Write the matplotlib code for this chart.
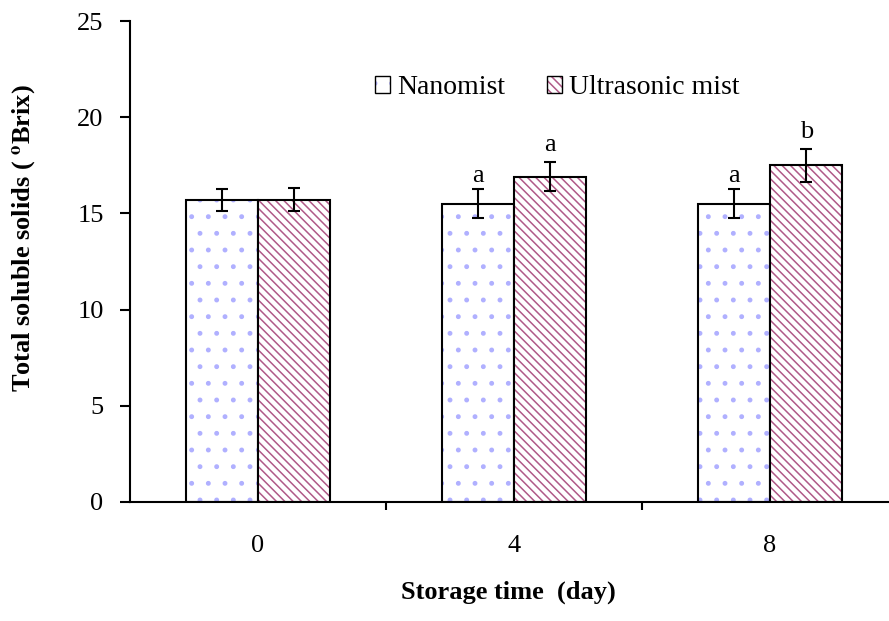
import matplotlib
matplotlib.use("Agg")
import matplotlib.pyplot as plt
import numpy as np

plt.rcParams['font.family'] = 'Liberation Serif'
plt.rcParams['mathtext.fontset'] = 'stix'
plt.rcParams['hatch.linewidth'] = 1.1

days = ["0", "4", "8"]
nanomist = [15.7, 15.5, 15.5]
nanomist_err = [0.55, 0.75, 0.75]
ultrasonic = [15.7, 16.9, 17.5]
ultrasonic_err = [0.6, 0.75, 0.85]
nanomist_sig = ["", "a", "a"]
ultrasonic_sig = ["", "a", "b"]

fig = plt.figure(figsize=(8.89, 6.21), dpi=100)
ax = fig.add_axes([130 / 889, 119 / 621, 768 / 889, 481 / 621])

x = np.arange(len(days))
w = 0.283

ekw = dict(ecolor='black', elinewidth=1.5, capsize=4.5, capthick=1.5)
b1 = ax.bar(x - w / 2, nanomist, w, yerr=nanomist_err, color='white',
            edgecolor='black', linewidth=1.5, hatch='.', label='Nanomist', error_kw=ekw)
b2 = ax.bar(x + w / 2, ultrasonic, w, yerr=ultrasonic_err, color='white',
            edgecolor='black', linewidth=1.5, hatch='\\\\\\\\', label='Ultrasonic mist',
            error_kw=ekw)
for p in b1.patches:
    p._hatch_color = matplotlib.colors.to_rgba('#b0b0ff')
for p in b2.patches:
    p._hatch_color = matplotlib.colors.to_rgba('#b05a88')

# significance letters above the error bars
for xi, v, e, s in zip(x - w / 2, nanomist, nanomist_err, nanomist_sig):
    if s:
        ax.annotate(s, (xi, v + e), xytext=(0, 5), textcoords='offset points',
                    ha='center', va='baseline', fontsize=19)
for xi, v, e, s in zip(x + w / 2, ultrasonic, ultrasonic_err, ultrasonic_sig):
    if s:
        ax.annotate(s, (xi, v + e), xytext=(0, 8), textcoords='offset points',
                    ha='center', va='baseline', fontsize=19)

ax.set_xlim(-0.5, 2.5)
ax.set_ylim(0, 25)
ax.set_yticks([0, 5, 10, 15, 20, 25])
ax.set_xticks(x)
ax.set_xticklabels(days)
ax.set_xticks([0.5, 1.5], minor=True)
ax.tick_params(axis='x', which='major', length=0, pad=24, labelsize=19)
ax.tick_params(axis='x', which='minor', length=6, width=1.5, direction='out')
ax.tick_params(axis='y', length=7, width=1.5, direction='out', pad=12, labelsize=19)

for side in ['top', 'right']:
    ax.spines[side].set_visible(False)
ax.spines['left'].set_linewidth(1.5)
ax.spines['bottom'].set_linewidth(1.5)

fig.text(25 / 889, 1 - 238 / 621, r"Total soluble solids ( $^{\mathbf{o}}$Brix)",
         rotation=90, ha='center', va='center', fontsize=19, fontweight='bold')
fig.text(508 / 889, 1 - 592 / 621, "Storage time  (day)",
         ha='center', va='center', fontsize=19, fontweight='bold')

leg = fig.legend(handles=[b1, b2], loc='center', bbox_to_anchor=(557 / 889, 1 - 88 / 621),
                 ncol=2, frameon=False, fontsize=20, handlelength=0.55, handleheight=0.55,
                 handletextpad=0.25, columnspacing=1.5)
for h in leg.legend_handles:
    h.set_linewidth(1.0)

fig.savefig("out.png", dpi=100)
